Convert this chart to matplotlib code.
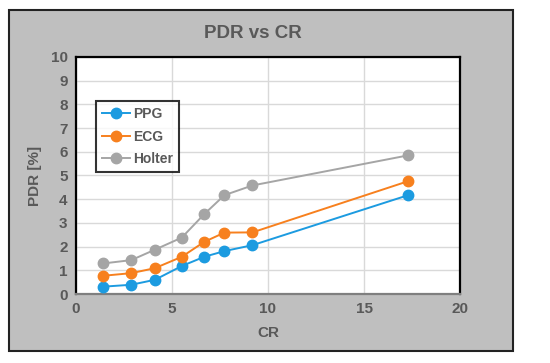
import matplotlib
matplotlib.use("Agg")
import matplotlib.pyplot as plt
from matplotlib.patches import Rectangle

plt.rcParams["font.family"] = ["Liberation Sans", "DejaVu Sans"]

cr = [1.43, 2.88, 4.11, 5.51, 6.68, 7.73, 9.19, 17.3]
ppg = [0.31, 0.39, 0.60, 1.18, 1.57, 1.81, 2.06, 4.17]
ecg = [0.77, 0.88, 1.09, 1.57, 2.20, 2.59, 2.60, 4.76]
holter = [1.29, 1.43, 1.87, 2.38, 3.37, 4.17, 4.58, 5.85]
series_names = ["PPG", "ECG", "Holter"]
colors = ["#1C9BE0", "#F7801E", "#A5A5A5"]
xticks = [0, 5, 10, 15, 20]
yticks = list(range(0, 11))

W, H = 550, 363
fig = plt.figure(figsize=(W / 100, H / 100), dpi=100)
fig.patch.set_facecolor("white")

# gray chart box
fig.patches.append(Rectangle((9 / W, (H - 351) / H), (513 - 9) / W, (351 - 10) / H,
                             transform=fig.transFigure, facecolor="#BFBFBF",
                             edgecolor="#222222", linewidth=1.5, zorder=-5))

ax = fig.add_axes([76 / W, (H - 294) / H, (460 - 76) / W, (294 - 57) / H])
ax.set_zorder(1)
ax.set_facecolor("white")
ax.set_xlim(0, 20)
ax.set_ylim(0, 10)
ax.set_xticks(xticks)
ax.set_yticks(yticks)
ax.grid(True, color="#D9D9D9", linewidth=1.0)
ax.set_axisbelow(True)
for s in ["left", "top", "right"]:
    ax.spines[s].set_color("black")
    ax.spines[s].set_linewidth(1.6)
ax.spines["bottom"].set_color("#7F7F7F")
ax.spines["bottom"].set_linewidth(1.6)
ax.tick_params(length=0, pad=6, labelsize=11, labelcolor="#595959")
for lab in ax.get_xticklabels() + ax.get_yticklabels():
    lab.set_fontweight("bold")

for vals, name, c in zip([ppg, ecg, holter], series_names, colors):
    ax.plot(cr, vals, color=c, linewidth=1.4, marker="o", markersize=7.5,
            markeredgecolor=c, label=name, clip_on=False, zorder=3)

ax.set_xlabel("CR", fontsize=11, fontweight="bold", color="#595959", labelpad=7)
ax.set_ylabel("PDR [%]", fontsize=11, fontweight="bold", color="#595959", labelpad=6)
fig.text(253 / W, 1 - 33 / H, "PDR vs CR", ha="center", va="center",
         fontsize=13.5, fontweight="bold", color="#595959")

leg = ax.legend(loc="upper left", bbox_to_anchor=((96 - 76) / (460 - 76), 1 - (101 - 57) / (294 - 57)),
                borderaxespad=0, frameon=True, fancybox=False, handlelength=2.0, handletextpad=0.2,
                borderpad=0.45, labelspacing=0.6, prop={"weight": "bold", "size": 10})
leg.get_frame().set_edgecolor("black")
leg.get_frame().set_linewidth(1.5)
for t in leg.get_texts():
    t.set_color("#595959")

fig.savefig("out.png", dpi=100, facecolor="white")
